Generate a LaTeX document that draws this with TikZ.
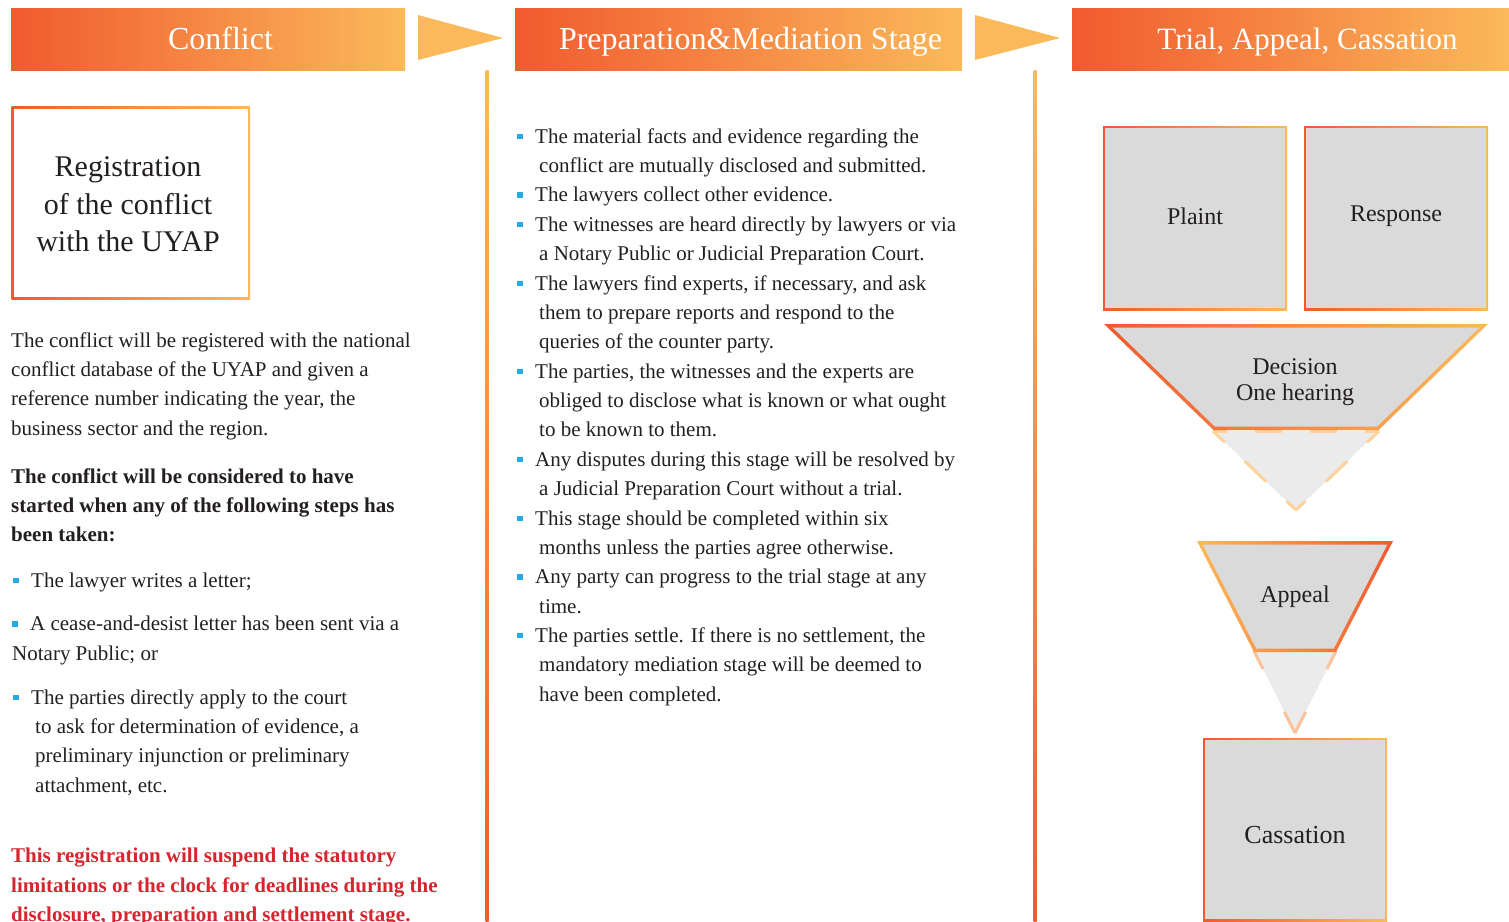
\documentclass[tikz,border=0pt]{standalone}
\usepackage{fontspec}
\setmainfont{Liberation Serif}
\definecolor{gradA}{HTML}{F15A2F}
\definecolor{gradB}{HTML}{FBB95A}
\definecolor{inkgray}{HTML}{231F20}
\definecolor{boxgray}{HTML}{DADADA}
\definecolor{funnelgray}{HTML}{EAEBEA}
\definecolor{dashpeach}{HTML}{FDD39C}
\definecolor{dashsalmon}{HTML}{FCC39A}
\definecolor{bulletblue}{HTML}{27AAE1}
\definecolor{alertred}{HTML}{D6252E}
% small square bullet and the hanging indent of wrapped bullet lines
\newcommand{\bsq}{\textcolor{bulletblue}{\rule[4pt]{5.5pt}{5.5pt}}}
\newcommand{\ind}{\hspace*{22pt}}

\begin{document}
\begin{tikzpicture}[x=1pt,y=-1pt,
  headertext/.style={anchor=base, inner sep=0pt, text=white, font=\fontsize{32}{36}\selectfont},
  bodytext/.style={anchor=north west, inner sep=0pt, yshift=20.56pt, align=left, text=inkgray, font=\fontsize{21}{29.37}\selectfont},
  boldtext/.style={bodytext, font=\fontsize{21}{29.37}\selectfont\bfseries},
  alerttext/.style={boldtext, text=alertred},
  titletext/.style={anchor=north, inner sep=0pt, yshift=26.25pt, align=center, text=inkgray, font=\fontsize{30}{37.5}\selectfont},
  boxlabel/.style={anchor=base, inner sep=0pt, align=center, text=inkgray, font=\fontsize{24}{27}\selectfont},
  dashedge/.style={line width=3pt, draw=dashpeach},
  warmgrad/.style={left color=gradA, right color=gradB},
  coolgrad/.style={left color=gradB, right color=gradA},
]
\useasboundingbox (0,0) rectangle (1509,921);

% ---------- stage header bars ----------
\shade[warmgrad] (11,8) rectangle (405,70);
\shade[warmgrad] (515,8) rectangle (962,70);
\shade[warmgrad] (1072,8) rectangle (1509,70);
\node[headertext] (hConflict) at (220.5,49) {Conflict};
\node[headertext] (hPrep) at (750.5,49) {Preparation\&Mediation Stage};
\node[headertext, font=\fontsize{31}{36}\selectfont] (hTrial) at (1307.5,49) {Trial, Appeal, Cassation};

% arrow heads between the stages
\fill[gradB] (418,15) -- (503,38) -- (418,60) -- cycle;
\fill[gradB] (975,15) -- (1060,38) -- (975,60) -- cycle;

% column separators
\shade[top color=gradB, bottom color=gradA] (485.5,70) rectangle (488.5,921);
\shade[top color=gradB, bottom color=gradA] (1033.5,70) rectangle (1036.5,921);

% ---------- first column ----------
\shade[warmgrad] (11.5,106.5) rectangle (250,299);
\fill[white] (14,109) rectangle (247.5,296.5);
\node[titletext] (regTitle) at (128,176.5) {\strut Registration\\of the conflict\\with the UYAP};

\node[bodytext] (regInfo) at (11,347) {\strut The conflict will be registered with the national\\conflict database of the UYAP and given a\\reference number indicating the year, the\\business sector and the region.};
\node[boldtext] (startRule) at (11,483) {\strut The conflict will be considered to have\\started when any of the following steps has\\been taken:};
\node[bodytext] (stepA) at (13,587) {\strut\bsq\hspace{12.5pt}The lawyer writes a letter;};
\node[bodytext] (stepB) at (12,630.5) {\strut\bsq\hspace{12.5pt}A cease-and-desist letter has been sent via a\\Notary Public; or};
\node[bodytext] (stepC) at (13,704) {\strut\bsq\hspace{12.5pt}The parties directly apply to the court\\\ind to ask for determination of evidence, a\\\ind preliminary injunction or preliminary\\\ind attachment, etc.};
\node[alerttext] (suspendNote) at (11,862.7) {\strut This registration will suspend the statutory\\limitations or the clock for deadlines during the\\disclosure, preparation and settlement stage.};

% ---------- second column ----------
\node[bodytext] (prepList) at (517,143) {\strut\bsq\hspace{12.5pt}The material facts and evidence regarding the\\
\ind conflict are mutually disclosed and submitted.\\
\bsq\hspace{12.5pt}The lawyers collect other evidence.\\
\bsq\hspace{12.5pt}The witnesses are heard directly by lawyers or via\\
\ind a Notary Public or Judicial Preparation Court.\\
\bsq\hspace{12.5pt}The lawyers find experts, if necessary, and ask\\
\ind them to prepare reports and respond to the\\
\ind queries of the counter party.\\
\bsq\hspace{12.5pt}The parties, the witnesses and the experts are\\
\ind obliged to disclose what is known or what ought\\
\ind to be known to them.\\
\bsq\hspace{12.5pt}Any disputes during this stage will be resolved by\\
\ind a Judicial Preparation Court without a trial.\\
\bsq\hspace{12.5pt}This stage should be completed within six\\
\ind months unless the parties agree otherwise.\\
\bsq\hspace{12.5pt}Any party can progress to the trial stage at any\\
\ind time.\\
\bsq\hspace{12.5pt}The parties settle. If there is no settlement, the\\
\ind mandatory mediation stage will be deemed to\\
\ind have been completed.};

% ---------- third column ----------
% plaint and response
\shade[warmgrad] (1103,126) rectangle (1287,310);
\fill[boxgray] (1105,128) rectangle (1285,308);
\node[boxlabel] (plaint) at (1195,224) {Plaint};
\shade[warmgrad] (1304,126) rectangle (1488,310);
\fill[boxgray] (1306,128) rectangle (1486,308);
\node[boxlabel] (response) at (1396,221) {Response};

% decision funnel: dashed tip, then the trapezoid on top
\fill[funnelgray] (1213,431) -- (1379,431) -- (1296,510) -- cycle;
\draw[dashedge, dash pattern=on 14pt off 28pt on 27pt off 28pt on 27pt off 28pt on 14pt off 40pt] (1213,431) -- (1379,431);
\draw[dashedge, dash pattern=on 13pt off 28pt on 30pt off 27pt on 20pt off 40pt] (1296,510) -- (1213,431);
\draw[dashedge, dash pattern=on 13pt off 28pt on 30pt off 27pt on 20pt off 40pt] (1296,510) -- (1379,431);
\shade[warmgrad] (1104,324) -- (1488,324) -- (1378.6,430) -- (1213.4,430) -- cycle;
\fill[boxgray] (1112.6,327.5) -- (1479.4,327.5) -- (1377.2,426.5) -- (1214.8,426.5) -- cycle;
\node[boxlabel] (decision) at (1295,374) {Decision};
\node[boxlabel] (hearing) at (1295,400.7) {One hearing};

% appeal funnel
\fill[funnelgray] (1254,651) -- (1336,651) -- (1295,733) -- cycle;
\draw[dashedge, draw=dashsalmon, dash pattern=on 20pt off 48pt on 30pt off 40pt] (1254,651) -- (1295,733);
\draw[dashedge, draw=dashsalmon, dash pattern=on 20pt off 48pt on 30pt off 40pt] (1336,651) -- (1295,733);
\shade[coolgrad] (1197,541) -- (1393,541) -- (1336,652) -- (1254,652) -- cycle;
\fill[boxgray] (1202.7,544.5) -- (1387.3,544.5) -- (1333.8,648.5) -- (1256.2,648.5) -- cycle;
\node[boxlabel] (appeal) at (1295,602.7) {Appeal};

% cassation
\shade[warmgrad] (1203,738) rectangle (1387,921);
\fill[boxgray] (1205,740) rectangle (1385,919);
\node[boxlabel, font=\fontsize{26}{30}\selectfont] (cassation) at (1295,843) {Cassation};
\end{tikzpicture}
\end{document}
